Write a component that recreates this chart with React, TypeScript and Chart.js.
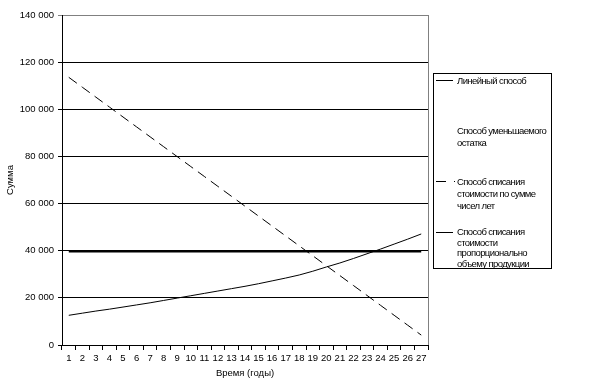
import React, { useEffect, useRef } from 'react';
import { Chart, registerables } from 'chart.js';

Chart.register(...registerables);

const years = ['1', '2', '3', '4', '5', '6', '7', '8', '9', '10', '11', '12', '13', '14', '15', '16', '17', '18', '19', '20', '21', '22', '23', '24', '25', '26', '27'];

const yTickValues = [0, 20000, 40000, 60000, 80000, 100000, 120000, 140000];

const linearValues = [39700, 39700, 39700, 39700, 39700, 39700, 39700, 39700, 39700, 39700, 39700, 39700, 39700, 39700, 39700, 39700, 39700, 39700, 39700, 39700, 39700, 39700, 39700, 39700, 39700, 39700, 39700];

const decliningBalanceValues: number[] = [];

const sumOfYearsValues = [113562, 109356, 105150, 100944, 96738, 92532, 88326, 84120, 79914, 75708, 71502, 67296, 63090, 58884, 54678, 50472, 46266, 42060, 37854, 33648, 29442, 25236, 21030, 16824, 12618, 8412, 4206];

const unitsOfProductionValues = [12600, 13500, 14400, 15200, 16100, 17000, 17900, 18900, 19900, 20900, 21900, 22900, 23900, 24900, 26000, 27200, 28400, 29700, 31300, 33100, 34800, 36700, 38700, 40700, 42800, 44900, 47100];

const seriesNames = [
  'Линейный способ',
  'Способ уменьшаемого остатка',
  'Способ списания стоимости по сумме чисел лет',
  'Способ списания стоимости пропорционально объему продукции',
];

const legendLines = [
  ['Линейный способ'],
  ['Способ уменьшаемого', 'остатка'],
  ['Способ списания', 'стоимости по сумме', 'чисел лет'],
  ['Способ списания', 'стоимости', 'пропорционально', 'объему продукции'],
];

const FONT = '"Liberation Sans", Arial, sans-serif';

function fmt(v: number): string {
  const s = String(Math.round(v));
  return s.replace(/\B(?=(\d{3})+(?!\d))/g, ' ');
}

const borderPlugin = {
  id: 'rightBorder',
  afterDraw(chart: any) {
    const { ctx, chartArea } = chart;
    ctx.save();
    ctx.strokeStyle = '#808080';
    ctx.lineWidth = 1;
    ctx.beginPath();
    const x = Math.round(chartArea.right) + 0.5;
    ctx.moveTo(x, chartArea.top);
    ctx.lineTo(x, chartArea.bottom);
    ctx.stroke();
    ctx.restore();
  },
};

export default function App() {
  const ref = useRef<HTMLCanvasElement | null>(null);

  useEffect(() => {
    document.body.style.margin = '0';
    if (!ref.current) return;
    Chart.defaults.color = '#000';
    const chart = new Chart(ref.current, {
      type: 'line',
      data: {
        labels: years,
        datasets: [
          {
            label: seriesNames[0],
            data: linearValues,
            borderColor: '#000',
            borderWidth: 2,
            pointRadius: 0,
            tension: 0,
          },
          {
            label: seriesNames[1],
            data: decliningBalanceValues,
            borderColor: '#fff',
            borderWidth: 1,
            pointRadius: 0,
          },
          {
            label: seriesNames[2],
            data: sumOfYearsValues,
            borderColor: '#000',
            borderWidth: 1,
            borderDash: [10, 6],
            pointRadius: 0,
            tension: 0,
          },
          {
            label: seriesNames[3],
            data: unitsOfProductionValues,
            borderColor: '#000',
            borderWidth: 1,
            pointRadius: 0,
            tension: 0,
          },
        ],
      },
      options: {
        animation: false,
        responsive: true,
        maintainAspectRatio: false,
        layout: { padding: { top: 15, right: 185, bottom: 0, left: 0 } },
        plugins: {
          legend: { display: false },
          tooltip: { enabled: false },
        },
        scales: {
          x: {
            type: 'category',
            offset: true,
            afterFit: (scale: any) => {
              scale.height = 41;
            },
            grid: {
              offset: true,
              drawOnChartArea: false,
              drawTicks: true,
              tickLength: 5,
              color: '#000',
            },
            border: { color: '#000', width: 1 },
            ticks: {
              maxRotation: 0,
              autoSkip: false,
              padding: 3,
              color: '#000',
              font: { family: FONT, size: 9.5 },
            },
            title: {
              display: true,
              text: 'Время (годы)',
              color: '#000',
              font: { family: FONT, size: 9.5 },
              padding: { top: 0, bottom: 7 },
            },
          },
          y: {
            min: 0,
            max: 140000,
            afterFit: (scale: any) => {
              scale.width = 62;
            },
            afterBuildTicks: (scale: any) => {
              scale.ticks = yTickValues.map((v) => ({ value: v }));
            },
            grid: {
              color: (c: any) => (c.tick && c.tick.value === 140000 ? '#808080' : '#000'),
              lineWidth: 1,
              tickLength: 4,
              drawTicks: true,
            },
            border: { color: '#000', width: 1 },
            ticks: {
              padding: 4,
              color: '#000',
              font: { family: FONT, size: 9.5 },
              callback: (v: any) => fmt(Number(v)),
            },
            title: {
              display: true,
              text: 'Сумма',
              color: '#000',
              font: { family: FONT, size: 9.5 },
              padding: { top: 5, bottom: 0 },
            },
          },
        },
      },
      plugins: [borderPlugin],
    });
    return () => chart.destroy();
  }, []);

  const entryTops = [75, 125, 176, 227];
  const lineHeights = [11, 12, 12, 10.7];

  return (
    <div style={{ position: 'absolute', left: 0, top: 0, width: 613, height: 386, background: '#fff' }}>
      <canvas ref={ref} width={613} height={386} style={{ display: 'block' }} />
      <div
        style={{
          position: 'absolute',
          left: 433,
          top: 73,
          width: 117,
          height: 194,
          border: '1px solid #000',
          boxSizing: 'content-box',
        }}
      />
      {legendLines.map((lines, i) => (
        <React.Fragment key={i}>
          {i !== 1 && (
            <svg
              style={{ position: 'absolute', left: 435, top: entryTops[i] + 5, overflow: 'visible' }}
              width={20}
              height={2}
            >
              <line
                x1={1}
                y1={0.5}
                x2={i === 2 ? 20 : 18}
                y2={0.5}
                stroke="#000"
                strokeWidth={1}
                strokeDasharray={i === 2 ? '10 8' : undefined}
              />
            </svg>
          )}
          <div
            style={{
              position: 'absolute',
              left: 457,
              top: entryTops[i],
              fontFamily: FONT,
              fontSize: 9.5,
              lineHeight: lineHeights[i] + 'px',
              letterSpacing: '-0.6px',
              color: '#000',
              whiteSpace: 'nowrap',
            }}
          >
            {lines.map((t, j) => (
              <div key={j}>{t}</div>
            ))}
          </div>
        </React.Fragment>
      ))}
    </div>
  );
}
